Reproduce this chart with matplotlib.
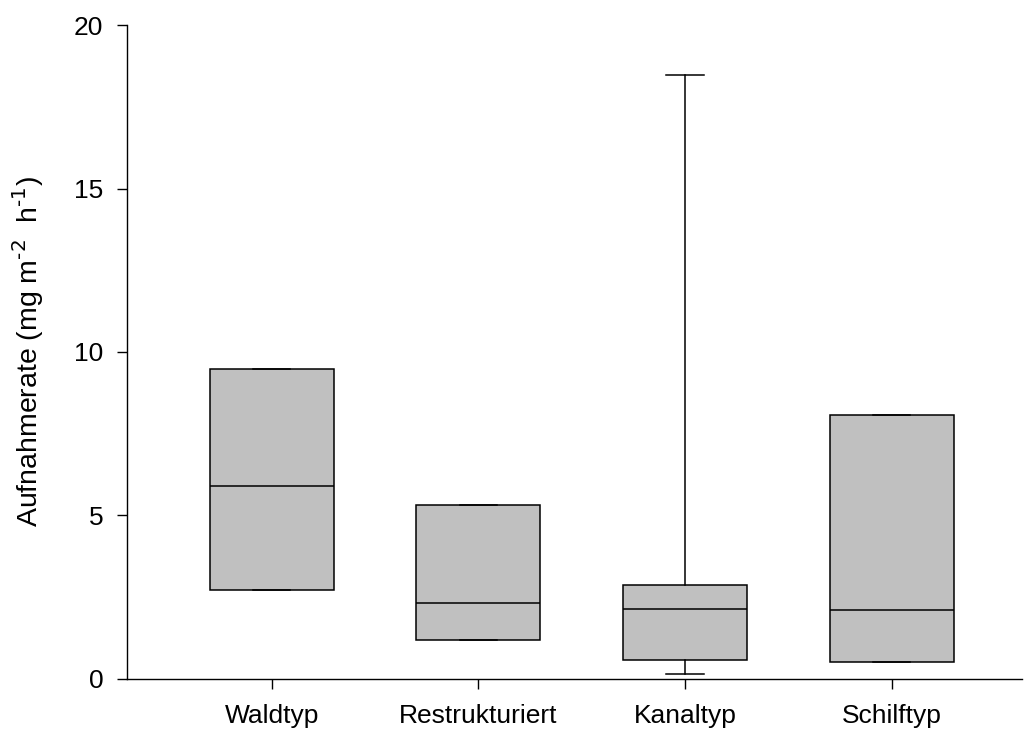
import matplotlib
matplotlib.use("Agg")
import matplotlib.pyplot as plt

plt.rcParams['font.family'] = ['Liberation Sans', 'DejaVu Sans']
plt.rcParams['mathtext.default'] = 'regular'

categories = ["Waldtyp", "Restrukturiert", "Kanaltyp", "Schilftyp"]
q1 = [2.72, 1.19, 0.58, 0.52]
median = [5.89, 2.32, 2.14, 2.11]
q3 = [9.48, 5.32, 2.87, 8.07]
whisker_low = [2.72, 1.19, 0.15, 0.52]
whisker_high = [9.48, 5.32, 18.47, 8.07]

stats = []
for i, name in enumerate(categories):
    stats.append(dict(label=name, q1=q1[i], med=median[i], q3=q3[i],
                      whislo=whisker_low[i], whishi=whisker_high[i], fliers=[]))

fig = plt.figure(figsize=(10.26, 7.29), dpi=100)
ax = fig.add_axes([0.1238, 0.0686, 0.8722, 0.8971])

lw = 1.1
ax.bxp(stats, positions=[1, 2, 3, 4], widths=0.6, patch_artist=True,
       showfliers=False, capwidths=0.18,
       boxprops=dict(facecolor='#c0c0c0', edgecolor='black', linewidth=lw),
       medianprops=dict(color='black', linewidth=lw),
       whiskerprops=dict(color='black', linewidth=lw),
       capprops=dict(color='black', linewidth=lw))

ax.set_xlim(0.30, 4.63)
ax.set_ylim(0, 20)
ax.set_yticks([0, 5, 10, 15, 20])
ax.set_xticks([1, 2, 3, 4])
ax.set_xticklabels(categories)
ax.spines['top'].set_visible(False)
ax.spines['right'].set_visible(False)
for s in ('left', 'bottom'):
    ax.spines[s].set_linewidth(1.0)
ax.tick_params(axis='both', direction='out', length=7, width=1.0, labelsize=19)
ax.tick_params(axis='y', pad=10)
ax.tick_params(axis='x', pad=11)
ax.set_ylabel(r'Aufnahmerate (mg m$^{\text{-2}}$  h$^{\text{-1}}$)', fontsize=20.5, labelpad=20)

fig.savefig("out.png", dpi=100)
